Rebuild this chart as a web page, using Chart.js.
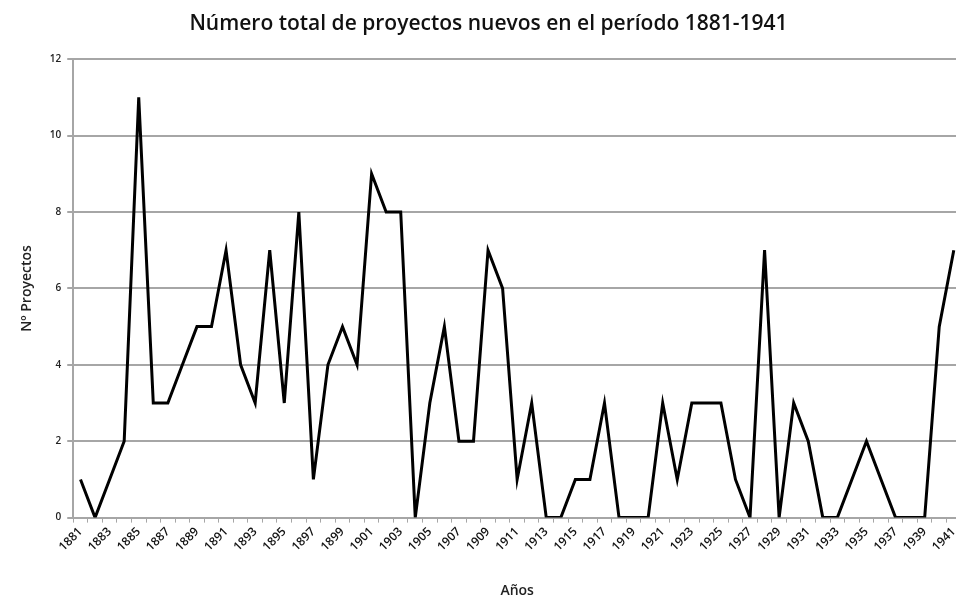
<!DOCTYPE html>
<html>
<head>
<meta charset="utf-8">
<script src="https://cdn.jsdelivr.net/npm/chart.js@4.4.6/dist/chart.umd.min.js"></script>
<style>
  html, body { margin: 0; padding: 0; background: #fff; overflow: hidden; }
  #wrap { position: relative; width: 966px; height: 599px; }
</style>
</head>
<body>
<div id="wrap"><canvas id="grafico"></canvas></div>
<script>
// Años 1881-1941
const anios = [
  1881, 1882, 1883, 1884, 1885, 1886, 1887, 1888, 1889, 1890,
  1891, 1892, 1893, 1894, 1895, 1896, 1897, 1898, 1899, 1900,
  1901, 1902, 1903, 1904, 1905, 1906, 1907, 1908, 1909, 1910,
  1911, 1912, 1913, 1914, 1915, 1916, 1917, 1918, 1919, 1920,
  1921, 1922, 1923, 1924, 1925, 1926, 1927, 1928, 1929, 1930,
  1931, 1932, 1933, 1934, 1935, 1936, 1937, 1938, 1939, 1940,
  1941,
];

// Nº de proyectos nuevos por año
const proyectos = [
  1, 0, 1, 2, 11, 3, 3, 4, 5, 5,
  7, 4, 3, 7, 3, 8, 1, 4, 5, 4,
  9, 8, 8, 0, 3, 5, 2, 2, 7, 6,
  1, 3, 0, 0, 1, 1, 3, 0, 0, 0,
  3, 1, 3, 3, 3, 1, 0, 7, 0, 3,
  2, 0, 0, 1, 2, 1, 0, 0, 0, 5,
  7,
];

const ticksY = [0, 2, 4, 6, 8, 10, 12];

const fuente = '"Open Sans", "Liberation Sans", sans-serif';
const gris = '#a6a6a6';

new Chart(document.getElementById('grafico'), {
  type: 'line',
  data: {
    labels: anios.map(String),
    datasets: [{
      data: proyectos,
      borderColor: '#000',
      borderWidth: 3,
      pointRadius: 0,
      tension: 0,
      fill: false,
    }],
  },
  options: {
    responsive: true,
    maintainAspectRatio: false,
    animation: false,
    layout: { padding: { left: 15, right: 4, top: 4, bottom: 0 } },
    plugins: {
      legend: { display: false },
      tooltip: { enabled: false },
      title: {
        display: true,
        text: 'Número total de proyectos nuevos en el período 1881-1941',
        color: '#111',
        font: { family: fuente, size: 21, weight: '600' },
        padding: { top: 7, bottom: 23 },
      },
    },
    scales: {
      x: {
        offset: true,
        grid: { drawOnChartArea: false, drawTicks: true, tickLength: 5, color: gris, offset: true },
        border: { color: gris, width: 2 },
        ticks: {
          autoSkip: false,
          maxRotation: 45,
          minRotation: 45,
          color: '#111',
          padding: 2,
          font: { family: fuente, size: 12, weight: '600' },
          callback: (v, i) => (i % 2 === 0 ? anios[i] : ''),
        },
        title: {
          display: true,
          text: 'Años',
          color: '#222',
          font: { family: fuente, size: 14, weight: '600' },
          padding: { top: 26, bottom: 0 },
        },
      },
      y: {
        min: 0,
        max: 12,
        afterBuildTicks: (eje) => { eje.ticks = ticksY.map((v) => ({ value: v })); },
        grid: { color: gris, lineWidth: 2, tickLength: 6 },
        border: { color: gris, width: 2 },
        ticks: {
          color: '#222',
          padding: 6,
          font: { family: fuente, size: 10, weight: '600' },
        },
        title: {
          display: true,
          text: 'Nº Proyectos',
          color: '#222',
          font: { family: fuente, size: 14, weight: '600' },
          padding: { bottom: 8 },
        },
      },
    },
  },
});
</script>
</body>
</html>
